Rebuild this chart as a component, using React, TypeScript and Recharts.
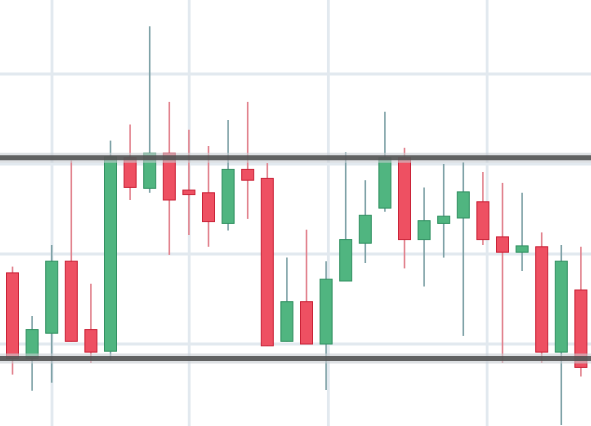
import { Bar, CartesianGrid, ComposedChart, ReferenceLine, XAxis, YAxis } from 'recharts'

// OHLC, left to right
const opens = [
  107.9, 98.4, 101.2, 109.2, 101.6, 99.2, 120.7, 117.3, 121.2, 117.1,
  116.8, 113.4, 119.4, 118.4, 100.3, 104.7, 100.0, 107.0, 111.2, 115.1,
  120.7, 111.6, 113.4, 114.0, 115.8, 111.9, 110.2, 110.8, 99.1, 106.0,
]
const highs = [
  108.6, 103.1, 111.0, 120.4, 106.7, 122.6, 124.4, 135.3, 126.9, 123.8,
  122.0, 124.9, 126.9, 120.1, 109.6, 112.7, 109.2, 121.3, 118.2, 125.8,
  121.8, 117.4, 120.0, 120.2, 119.1, 117.9, 116.8, 112.4, 111.0, 110.8,
]
const lows = [
  96.6, 94.8, 95.7, 100.3, 97.9, 98.2, 116.0, 116.8, 109.9, 112.1,
  110.8, 112.6, 113.9, 99.8, 100.3, 100.0, 94.9, 107.0, 109.0, 114.7,
  108.4, 106.4, 109.6, 100.9, 111.0, 97.9, 108.1, 97.9, 91.0, 96.4,
]
const closes = [
  98.4, 101.6, 109.2, 100.3, 99.1, 120.8, 117.4, 121.2, 116.0, 116.6,
  113.6, 119.4, 118.2, 99.8, 104.7, 100.0, 107.2, 111.6, 114.3, 120.7,
  111.6, 113.7, 114.2, 116.9, 111.6, 110.2, 110.9, 99.1, 109.2, 97.4,
]

const gridValues = [100, 110, 120, 130]
// vertical grid lines, in candle-index units
const gridPositions = [2, 9, 16.1, 24.2]
const resistance = 120.7
const support = 98.4

const Y_MIN = 90.89
const Y_MAX = 138.22

const data = opens.map((open, i) => ({
  i,
  open,
  close: closes[i],
  high: highs[i],
  low: lows[i],
  range: [lows[i], highs[i]],
}))

const UP = { fill: '#50b580', stroke: '#339263', wick: '#80a3a8' }
const DOWN = { fill: '#ee5062', stroke: '#cb2439', wick: '#e2848f' }

function Candle(props: any) {
  const { x, y, width, height, payload } = props
  if (typeof x !== 'number' || typeof y !== 'number' || !payload) return <g />
  const top = Math.min(y, y + height)
  const h = Math.abs(height)
  const { open, close, high, low } = payload
  const toPx = (v: number) => top + ((high - v) / (high - low)) * h
  const up = close >= open
  const c = up ? UP : DOWN
  const cx = x + width / 2
  const bodyTop = toPx(Math.max(open, close))
  const bodyBottom = toPx(Math.min(open, close))
  return (
    <g>
      <line x1={cx} x2={cx} y1={top} y2={top + h} stroke={c.wick} strokeWidth={1.6} />
      <rect
        x={x + 0.5}
        y={bodyTop}
        width={width - 1}
        height={Math.max(bodyBottom - bodyTop, 2)}
        fill={c.fill}
        stroke={c.stroke}
        strokeWidth={1}
      />
    </g>
  )
}

export default function App() {
  return (
    <div style={{ position: 'absolute', left: 0, top: 0, width: 591, height: 426, background: '#fff' }}>
      <ComposedChart width={591} height={426} data={data} margin={{ top: 0, right: 0, bottom: 0, left: 0 }}>
        <XAxis dataKey="i" hide padding={{ left: 3, right: 0 }} />
        {/* numeric twin of the band axis: index i lands on the candle centre */}
        <XAxis
          xAxisId="g"
          dataKey="i"
          type="number"
          domain={['dataMin', 'dataMax']}
          hide
          padding={{ left: 12.8, right: 9.8 }}
        />
        <YAxis type="number" domain={[Y_MIN, Y_MAX]} allowDataOverflow hide />
        <CartesianGrid
          xAxisId="g"
          verticalValues={gridPositions}
          horizontalValues={gridValues}
          stroke="#e2e9ef"
          strokeWidth={2.8}
        />
        <Bar dataKey="range" barSize={13} shape={Candle} isAnimationActive={false} />
        <ReferenceLine y={resistance} stroke="rgba(200,205,210,0.6)" strokeWidth={10} />
        <ReferenceLine y={resistance} stroke="rgba(80,80,80,0.88)" strokeWidth={5} />
        <ReferenceLine y={support} stroke="rgba(200,205,210,0.6)" strokeWidth={10} />
        <ReferenceLine y={support} stroke="rgba(80,80,80,0.88)" strokeWidth={5} />
      </ComposedChart>
    </div>
  )
}
